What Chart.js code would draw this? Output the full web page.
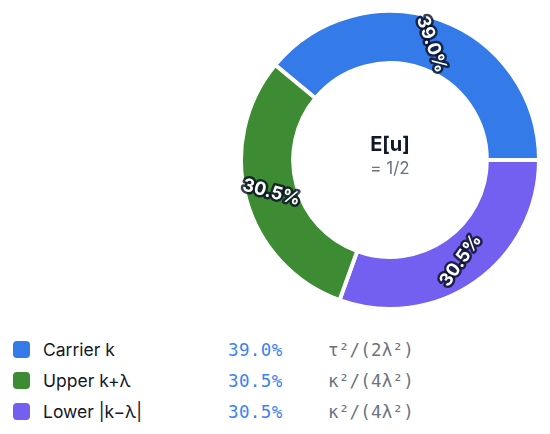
<!DOCTYPE html>
<html>
<head>
<meta charset="utf-8">
<script src="https://cdn.jsdelivr.net/npm/chart.js@4/dist/chart.umd.min.js"></script>
<style>
  html, body { margin: 0; padding: 0; background: #fff; }
  body { width: 550px; height: 434px; position: relative; overflow: hidden; font-family: Inter, "Noto Sans", sans-serif; }
  #wrap { position: absolute; left: 239px; top: 9px; width: 302px; height: 302px; }
  #legend { position: absolute; left: 13px; top: 334px; }
  .row { display: flex; align-items: center; height: 31px; }
  .sw { width: 17px; height: 17px; border-radius: 4px; margin-right: 13px; }
  .name { width: 185px; font-size: 17.5px; color: #111827; }
  .pct { width: 100px; font-family: "DejaVu Sans Mono", monospace; font-size: 17.5px; letter-spacing: 0.4px; color: #3b82f6; }
  .frm { font-family: "DejaVu Sans Mono", monospace; font-size: 17.5px; letter-spacing: 0.2px; color: #6b7280; }
</style>
</head>
<body>
<div id="wrap"><canvas id="chart"></canvas></div>
<div id="legend"></div>
<script>
(() => {
  'use strict'

  const labels = ['Carrier k', 'Upper k+λ', 'Lower |k−λ|']
  const shares = [39.0, 30.5, 30.5]
  const formulas = ['τ²/(2λ²)', 'κ²/(4λ²)', 'κ²/(4λ²)']
  const colors = ['#347ae8', '#3d8b32', '#7460f0']
  // ring goes clockwise: carrier, lower, upper
  const ringOrder = [0, 2, 1]
  const centerTitle = 'E[u]'
  const centerValue = '= 1/2'

  const legend = document.getElementById('legend')
  labels.forEach((l, i) => {
    const row = document.createElement('div')
    row.className = 'row'
    row.innerHTML = '<div class="sw" style="background:' + colors[i] + '"></div>' +
      '<div class="name"></div><div class="pct">' + shares[i].toFixed(1) + '%</div>' +
      '<div class="frm"></div>'
    row.querySelector('.name').textContent = l
    row.querySelector('.frm').textContent = formulas[i]
    legend.appendChild(row)
  })

  const arcLabels = {
    id: 'arcLabels',
    afterDatasetsDraw(chart) {
      const c = chart.ctx
      const meta = chart.getDatasetMeta(0)
      meta.data.forEach((arc, i) => {
        const p = arc.getProps(['x', 'y', 'startAngle', 'endAngle', 'innerRadius', 'outerRadius'])
        const mid = (p.startAngle + p.endAngle) / 2
        const r = (p.innerRadius + p.outerRadius) / 2
        let rot = -mid
        while (rot > Math.PI / 2) rot -= Math.PI
        while (rot < -Math.PI / 2) rot += Math.PI
        c.save()
        c.translate(p.x + Math.cos(mid) * r, p.y + Math.sin(mid) * r)
        c.rotate(rot)
        c.font = 'bold 18px Inter, sans-serif'
        c.textAlign = 'center'
        c.textBaseline = 'middle'
        c.lineJoin = 'round'
        c.lineWidth = 5
        c.strokeStyle = 'rgba(10,15,35,0.8)'
        const txt = shares[ringOrder[i]].toFixed(1) + '%'
        c.strokeText(txt, 0, 0)
        c.fillStyle = '#fff'
        c.fillText(txt, 0, 0)
        c.restore()
      })
    },
    afterDraw(chart) {
      const c = chart.ctx
      const arc = chart.getDatasetMeta(0).data[0]
      c.save()
      c.textAlign = 'center'
      c.textBaseline = 'middle'
      c.fillStyle = '#111827'
      c.font = 'bold 20px Inter, sans-serif'
      c.fillText(centerTitle, arc.x, arc.y - 15)
      c.fillStyle = '#6b7280'
      c.font = '17px Inter, sans-serif'
      c.fillText(centerValue, arc.x, arc.y + 9)
      c.restore()
    }
  }

  new Chart(document.getElementById('chart'), {
    type: 'doughnut',
    data: {
      labels: ringOrder.map(i => labels[i]),
      datasets: [{
        data: ringOrder.map(i => shares[i]),
        backgroundColor: ringOrder.map(i => colors[i]),
        borderColor: '#fff',
        borderWidth: 4,
        hoverOffset: 0
      }]
    },
    options: {
      responsive: true,
      maintainAspectRatio: false,
      animation: false,
      cutout: '65%',
      rotation: 90 - shares[0] * 3.6,
      plugins: {
        legend: { display: false },
        tooltip: { enabled: false }
      }
    },
    plugins: [arcLabels]
  })
})()
</script>
</body>
</html>
